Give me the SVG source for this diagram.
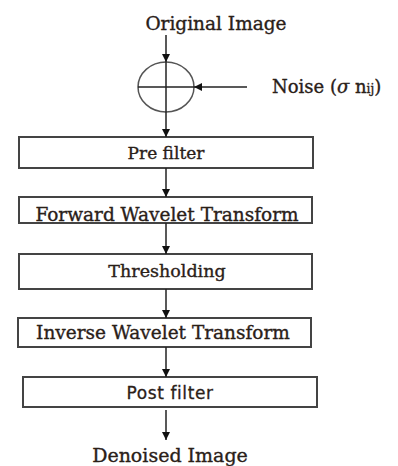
<svg xmlns="http://www.w3.org/2000/svg" width="398" height="466" viewBox="0 0 398 466">
<style>
.box{fill:#fff;stroke:#444;stroke-width:2}
.t{font-family:"DejaVu Serif",serif;fill:#2a2018;stroke:#2a2018;stroke-width:0.35;text-anchor:middle}
.s{font-family:"DejaVu Sans",sans-serif;fill:#2a2018;stroke:#2a2018;stroke-width:0.3;text-anchor:middle}
.ln{stroke:#222;stroke-width:1.5;fill:none}
</style>
<defs>
<marker id="ah" viewBox="0 0 10 10" refX="10" refY="5" markerWidth="8" markerHeight="8" markerUnits="userSpaceOnUse" orient="auto">
<path d="M0,0 L10,5 L0,10 z" fill="#111"/>
</marker>
</defs>
<rect width="398" height="466" fill="#fff"/>
<g id="original"><text class="t" x="216" y="30" font-size="18.5">Original Image</text></g>
<g id="noise"><text x="272" y="93" font-family="DejaVu Serif,serif" font-size="18" fill="#2a2018" stroke="#2a2018" stroke-width="0.35">Noise (<tspan font-style="italic">σ</tspan> n<tspan font-size="12">ij</tspan>)</text></g>
<g id="adder">
<ellipse cx="166" cy="87" rx="28" ry="25" fill="#fff" stroke="#555" stroke-width="1.5"/>
<line x1="138" y1="87" x2="194" y2="87" class="ln"/>
<line x1="166" y1="62" x2="166" y2="112" class="ln"/>
</g>
<g id="prefilter"><rect class="box" x="19" y="137" width="294" height="31"/><text class="t" x="166" y="159" font-size="17">Pre filter</text></g>
<g id="fwt"><rect class="box" x="19" y="197" width="293" height="26"/><text class="t" x="167" y="221" font-size="18.5">Forward Wavelet Transform</text></g>
<g id="thresh"><rect class="box" x="19" y="254" width="293" height="35"/><text class="t" x="167" y="277" font-size="17.5">Thresholding</text></g>
<g id="iwt"><rect class="box" x="18" y="318" width="293" height="29"/><text class="t" x="163" y="339" font-size="18.5">Inverse Wavelet Transform</text></g>
<g id="postfilter"><rect class="box" x="23" y="377" width="294" height="30"/><text class="s" x="170" y="399" font-size="17" letter-spacing="0.6">Post filter</text></g>
<g id="denoised"><text class="t" x="170" y="462" font-size="19">Denoised Image</text></g>
<g id="connectors">
<line x1="166" y1="35" x2="166" y2="62" class="ln" marker-end="url(#ah)"/>
<line x1="247" y1="87" x2="194" y2="87" class="ln" marker-end="url(#ah)"/>
<line x1="166" y1="112" x2="166" y2="137" class="ln" marker-end="url(#ah)"/>
<line x1="166" y1="168" x2="166" y2="197" class="ln" marker-end="url(#ah)"/>
<line x1="166" y1="223" x2="166" y2="254" class="ln" marker-end="url(#ah)"/>
<line x1="166" y1="289" x2="166" y2="318" class="ln" marker-end="url(#ah)"/>
<line x1="166" y1="347" x2="166" y2="377" class="ln" marker-end="url(#ah)"/>
<line x1="166" y1="410" x2="166" y2="440" class="ln" marker-end="url(#ah)"/>
</g>
</svg>
